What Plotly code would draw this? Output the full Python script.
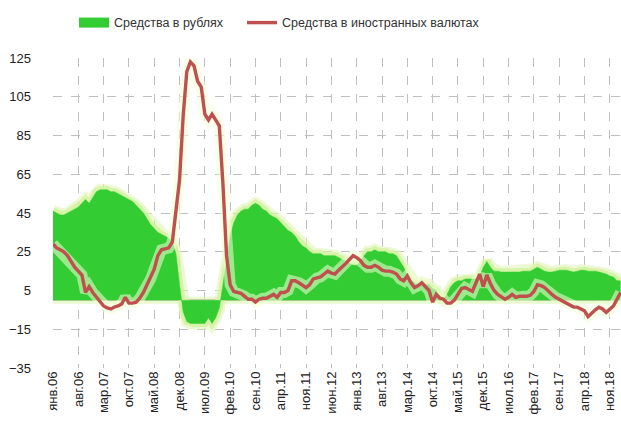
import plotly.graph_objects as go

# Monthly, Jan 2006 .. Feb 2019 (index 0 = янв.06)
rub = [46, 45, 44, 44, 45, 46, 47, 48, 50, 52, 50, 53, 56, 57, 57, 57, 56, 56, 55, 54,
       53, 52, 51, 49, 47, 45, 42, 39, 37, 35, 34, 33, 32, 30, 24, 8, -6, -11, -12, -12,
       -12, -12, -12, -9, -12, -9, -4, 8, 20, 33, 40, 44, 46, 47, 47, 49, 50, 49, 47, 46,
       44, 43, 42, 40, 38, 36, 35, 33, 30, 28, 27, 25, 24, 24, 24, 23, 23, 23, 23, 22,
       21, 20, 19, 18, 18, 20, 23, 25, 25, 26, 25, 25, 25, 24, 24, 23, 20, 17, 13, 10,
       9, 8, 9, 8, 8, 6, 5, 2, 0.5, 3, 7, 9, 10, 10, 11, 11, 11, 11, 12, 17,
       20, 17, 15, 15, 14.5, 14.5, 14.5, 14.5, 14.5, 14.5, 15, 15, 15, 16, 17, 16, 15, 14.5, 14.5, 15,
       15.5, 15.5, 15.5, 15, 14.5, 15, 15.5, 15.5, 15, 15, 15, 14.5, 14, 13.5, 12.5, 12, 10, 10]

fx = [29, 27, 26, 25, 23, 20, 17, 15, 13, 4, 7, 4, 1.5, -1, -3, -4, -4.5, -3.5, -3, -2,
      1.5, -1.5, -1.5, -1, 1, 4, 8, 11, 16, 23, 26, 26.5, 27, 30, 45, 62, 95, 118, 123, 121,
      113, 110, 96, 93, 96, 93, 90, 60, 23, 8, 4.5, 4, 3.5, 2, 0.5, 0.5, -1, 0.5, 1, 1,
      2, 3, 1.5, 4, 4, 5, 10, 10, 9, 8, 6.5, 8, 11, 11.5, 12, 13.5, 15, 14, 13.5, 15.5,
      17, 19, 21, 23, 22, 20.5, 18, 17, 17, 18, 17, 15.5, 15, 15, 14.5, 13.5, 11, 10, 12.5, 9,
      6.5, 7.5, 9, 7, 5, -1, 3, 1, 0.5, -1.5, -1.5, 0, 3, 6, 6.5, 5.5, 4.5, 9, 13.5, 7,
      13, 8.5, 5, 3, 1.5, 0.5, 1.5, 3, 1.5, 2, 2, 2, 2.5, 4.5, 8, 7.5, 6.5, 4.5, 3, 1.5,
      0.5, -0.5, -1.5, -2.5, -3.5, -3.6, -4.5, -5.5, -8.5, -6.5, -5, -3.6, -4.5, -6.3, -4.5, -3, 0.5, 4]

tick_labels = ["янв.06", "авг.06", "мар.07", "окт.07", "май.08", "дек.08", "июл.09",
               "фев.10", "сен.10", "апр.11", "ноя.11", "июн.12", "янв.13", "авг.13",
               "мар.14", "окт.14", "май.15", "дек.15", "июл.16", "фев.17", "сен.17",
               "апр.18", "ноя.18"]
tick_step = 7

x = list(range(len(rub)))
tick_vals = [i * tick_step for i in range(len(tick_labels))]

GREEN = "#33CC33"
RED = "#C0504D"
FONT = "Liberation Sans"
PAD = "\u00a0" * 4

fig = go.Figure()
# soft glow around green area
fig.add_trace(go.Scatter(x=x, y=rub, mode="lines", showlegend=False, hoverinfo="skip",
                         line=dict(color="rgba(225,245,185,0.6)", width=12)))
fig.add_trace(go.Scatter(x=x, y=rub, mode="lines", showlegend=False, hoverinfo="skip",
                         line=dict(color="rgba(205,240,150,0.75)", width=7)))
fig.add_trace(go.Scatter(x=x, y=[0] * len(x), mode="lines", showlegend=False, hoverinfo="skip",
                         line=dict(color="rgba(215,245,170,0.55)", width=7)))
fig.add_trace(go.Scatter(x=x, y=rub, mode="lines", fill="tozeroy", fillcolor=GREEN,
                         line=dict(color=GREEN, width=0.5), showlegend=False,
                         legendgroup="rub", name="Средства в рублях"))
# legend entry for the green area (no data)
fig.add_trace(go.Scatter(x=[None], y=[None], mode="lines", legendgroup="rub",
                         line=dict(color=GREEN, width=13), name="Средства в рублях" + PAD))
# glow around red line (visible mostly over the green area)
fig.add_trace(go.Scatter(x=x, y=fx, mode="lines", showlegend=False, hoverinfo="skip",
                         line=dict(color="rgba(240,255,215,0.55)", width=11)))
fig.add_trace(go.Scatter(x=x, y=fx, mode="lines", line=dict(color=RED, width=3.4),
                         name="Средства в иностранных валютах"))

fig.update_layout(
    width=621, height=425,
    margin=dict(l=53, r=0, t=58, b=57, autoexpand=False),
    paper_bgcolor="white", plot_bgcolor="white",
    font=dict(family=FONT, size=12, color="#333333"),
    showlegend=True,
    legend=dict(orientation="h", x=0.037, xanchor="left", y=1.113, yanchor="middle",
                font=dict(family=FONT, size=12.5, color="#333333"),
                itemwidth=30, tracegroupgap=0, bgcolor="rgba(0,0,0,0)"),
    xaxis=dict(range=[0, 157.1], tickmode="array", tickvals=tick_vals, ticktext=tick_labels,
               tickangle=-90, showgrid=True, gridcolor="#BFBFBF", griddash="dash", gridwidth=1,
               zeroline=False, showline=False, ticks="", automargin=False,
               tickfont=dict(size=13, color="#222222")),
    yaxis=dict(range=[-35, 125], tickmode="linear", tick0=-35, dtick=20,
               showgrid=True, gridcolor="#BFBFBF", griddash="dash", gridwidth=1,
               zeroline=True, zerolinecolor="#A0A0A0", zerolinewidth=2,
               showline=False, ticks="", automargin=False, ticklabelstandoff=21,
               tickfont=dict(size=13, color="#222222")),
)

fig.write_html("out.html", config={"displayModeBar": False},
               post_script="document.body.style.margin='0';document.body.style.overflow='hidden';")
